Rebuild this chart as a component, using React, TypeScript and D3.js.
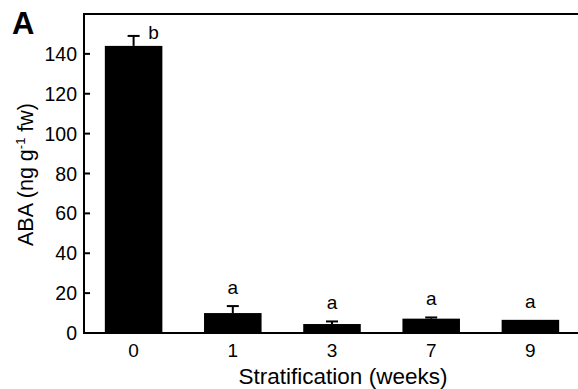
import * as d3 from "d3";

const weeks = ["0", "1", "3", "7", "9"];
const abaMeans = [144, 10, 4.5, 7.2, 6.6];
const abaErrors = [5, 3.5, 1.3, 0.6, 0];
const groupLetters = ["b", "a", "a", "a", "a"];
const yTicks = [0, 20, 40, 60, 80, 100, 120, 140];

const W = 578;
const H = 389;
const m = { top: 14, right: -2, bottom: 56, left: 84 };
const font = "'Liberation Sans', Arial, Helvetica, sans-serif";

export default function App() {
  const x = d3
    .scaleBand<string>()
    .domain(weeks)
    .range([m.left, W - m.right])
    .paddingInner(0.42)
    .paddingOuter(0.21);

  const y = d3.scaleLinear().domain([0, 160]).range([H - m.bottom, m.top]);
  const y0 = y(0);

  return (
    <svg
      width={W}
      height={H}
      style={{ position: "fixed", left: 0, top: 0, background: "#fff" }}
      fontFamily={font}
    >
      <text x={12} y={34} fontSize={31} fontWeight="bold">
        A
      </text>

      {weeks.map((w, i) => {
        const bx = x(w)!;
        const cx = bx + x.bandwidth() / 2;
        const top = y(abaMeans[i] + abaErrors[i]);
        const first = i === 0;
        return (
          <g key={w}>
            <rect
              x={bx}
              y={y(abaMeans[i])}
              width={x.bandwidth()}
              height={y0 - y(abaMeans[i])}
              fill="#000"
            />
            {abaErrors[i] > 0 && (
              <g stroke="#000" strokeWidth={2}>
                <line x1={cx} x2={cx} y1={y(abaMeans[i])} y2={top} />
                <line x1={cx - 6} x2={cx + 6} y1={top} y2={top} />
              </g>
            )}
            <text
              x={first ? cx + 20 : cx}
              y={first ? top + 3 : top - 12}
              fontSize={19}
              textAnchor="middle"
            >
              {groupLetters[i]}
            </text>
            <text x={cx} y={357} fontSize={19} textAnchor="middle">
              {w}
            </text>
          </g>
        );
      })}

      {/* frame: left axis, top and bottom lines, no right side */}
      <line x1={m.left} x2={W} y1={m.top} y2={m.top} stroke="#000" strokeWidth={2} />
      <line x1={m.left} x2={W} y1={y0} y2={y0} stroke="#000" strokeWidth={2} />
      <line x1={m.left} x2={m.left} y1={m.top - 1} y2={y0 + 1} stroke="#000" strokeWidth={2} />

      {yTicks.map((t) => (
        <g key={t}>
          <line x1={m.left} x2={m.left + 6} y1={y(t)} y2={y(t)} stroke="#000" strokeWidth={2} />
          <text x={m.left - 7} y={y(t) + 7} fontSize={19.5} textAnchor="end">
            {t}
          </text>
        </g>
      ))}

      <text
        transform={`translate(33,${(y0 + m.top) / 2 + 1}) rotate(-90)`}
        fontSize={21.5}
        textAnchor="middle"
      >
        ABA (ng g
        <tspan dy={-8} fontSize={13}>
          -1
        </tspan>
        <tspan dy={8}> fw)</tspan>
      </text>

      <text x={(m.left + W) / 2 + 12} y={384} fontSize={22.5} textAnchor="middle">
        Stratification (weeks)
      </text>
    </svg>
  );
}
